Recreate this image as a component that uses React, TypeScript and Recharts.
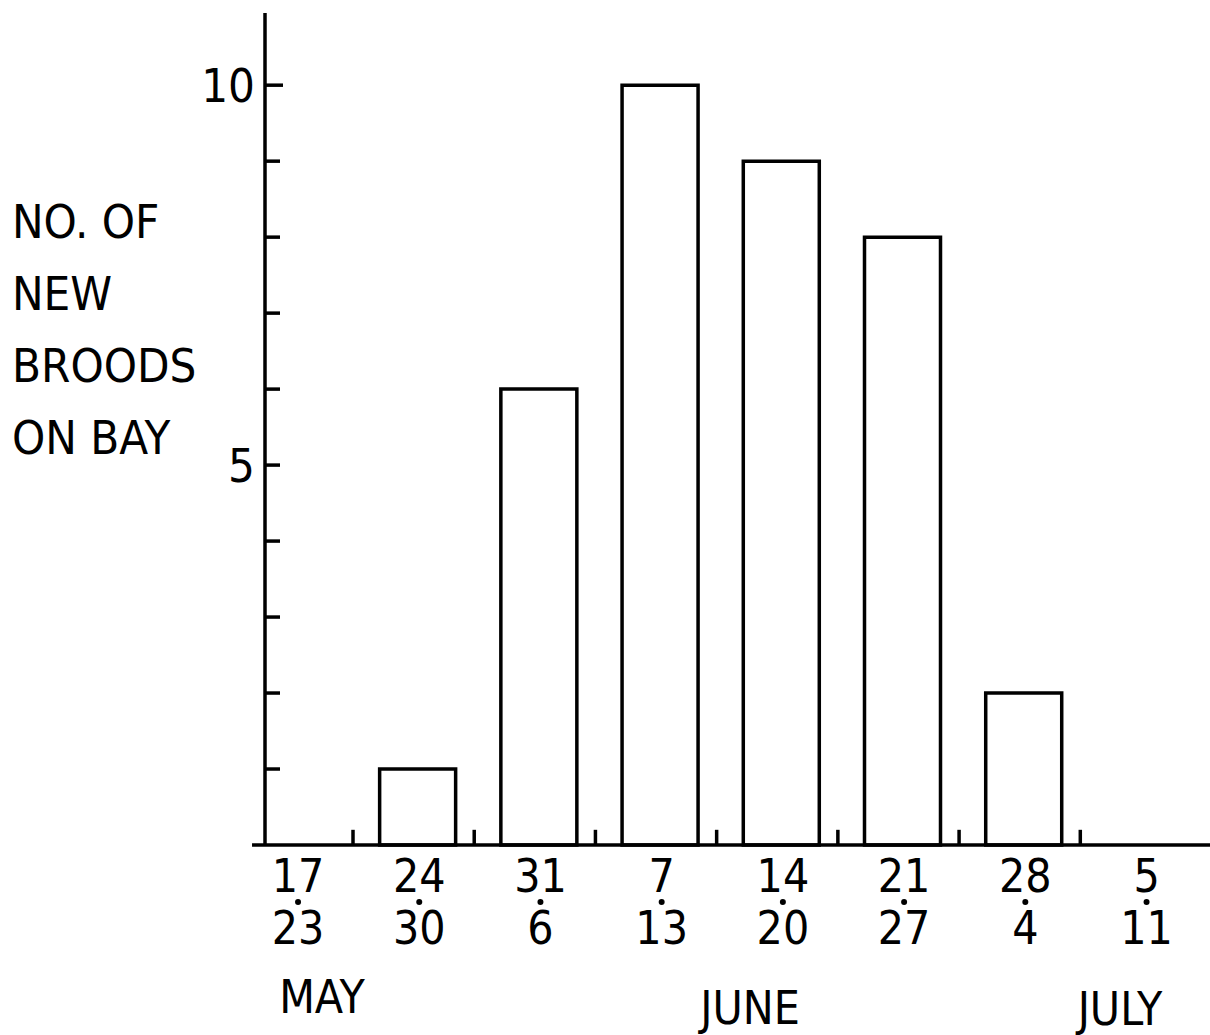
import { Bar, BarChart, ReferenceLine, XAxis, YAxis } from 'recharts';

const WEEK_START = ['17', '24', '31', '7', '14', '21', '28', '5'];
const WEEK_END = ['23', '30', '6', '13', '20', '27', '4', '11'];
const NEW_BROODS = [0, 1, 6, 10, 9, 8, 2, 0];
const Y_TICKS = [1, 2, 3, 4, 5, 6, 7, 8, 9, 10];
const Y_LABELED = [5, 10];
const Y_TITLE = ['NO. OF', 'NEW', 'BROODS', 'ON BAY'];
const MONTHS = ['MAY', 'JUNE', 'JULY'];

const rows = NEW_BROODS.map((v, i) => ({ week: i, start: WEEK_START[i], end: WEEK_END[i], broods: v }));
const boundaries = WEEK_START.slice(1).map((_, i) => i + 0.5);

const FONT = "'DejaVu Sans Condensed', 'DejaVu Sans', sans-serif";
const INK = '#000';
const LINE_W = 3.5;

// where the month names sit under the date labels
const monthPos = [
  { left: 322, top: 997 },
  { left: 750, top: 1008 },
  { left: 1120, top: 1009 },
];

function WeekTick(props: any) {
  const { x, y, payload } = props;
  const r = rows[payload.value];
  if (!r) return null;
  return (
    <g fontFamily={FONT} fontStretch="condensed" fontSize={46} fill={INK}>
      <text x={x + 2} y={y + 47} textAnchor="middle">{r.start}</text>
      <circle cx={x + 2} cy={y + 57} r={3} fill={INK} />
      <text x={x + 2} y={y + 99} textAnchor="middle">{r.end}</text>
    </g>
  );
}

function CountTick(props: any) {
  const { x, y, payload } = props;
  const len = payload.value === 10 ? 18 : 15;
  return (
    <g>
      <line x1={x} y1={y} x2={x + len} y2={y} stroke={INK} strokeWidth={LINE_W} />
      {Y_LABELED.includes(payload.value) && (
        <text x={x - 10} y={y + 17} textAnchor="end" fontFamily={FONT} fontStretch="condensed" fontSize={47} fill={INK}>
          {payload.value}
        </text>
      )}
    </g>
  );
}

export default function App() {
  return (
    <div style={{ position: 'absolute', left: 0, top: 0, width: 1210, height: 1035, background: '#fff' }}>
      <BarChart width={1210} height={1035} data={rows} margin={{ top: 13, right: 0, bottom: 0, left: 0 }}>
        <XAxis
          dataKey="week"
          type="number"
          domain={[-0.256, 7.54]}
          ticks={rows.map((r) => r.week)}
          allowDataOverflow
          height={190}
          tickSize={0}
          tickMargin={0}
          tickLine={false}
          axisLine={{ stroke: INK, strokeWidth: LINE_W }}
          tick={<WeekTick />}
          interval={0}
        />
        <YAxis
          type="number"
          domain={[0, 10.95]}
          ticks={Y_TICKS}
          width={265}
          tickSize={0}
          tickMargin={0}
          tickLine={false}
          axisLine={{ stroke: INK, strokeWidth: LINE_W }}
          tick={<CountTick />}
          interval={0}
        />
        <ReferenceLine
          segment={[{ x: -0.363, y: 0 }, { x: -0.256, y: 0 }]}
          stroke={INK}
          strokeWidth={LINE_W}
          ifOverflow="visible"
        />
        {boundaries.map((b) => (
          <ReferenceLine
            key={b}
            segment={[{ x: b - 0.03, y: 0 }, { x: b - 0.03, y: 0.2 }]}
            stroke={INK}
            strokeWidth={LINE_W}
          />
        ))}
        <Bar dataKey="broods" fill="#fff" stroke={INK} strokeWidth={LINE_W} barSize={76} isAnimationActive={false} />
      </BarChart>
      <div
        style={{
          position: 'absolute', left: 12, top: 186, fontFamily: FONT, fontStretch: 'condensed',
          fontSize: 47, lineHeight: '72px', color: INK, whiteSpace: 'pre',
        }}
      >
        {Y_TITLE.map((t) => <div key={t}>{t}</div>)}
      </div>
      {MONTHS.map((m, i) => (
        <div
          key={m}
          style={{
            position: 'absolute', left: monthPos[i].left, top: monthPos[i].top, transform: 'translate(-50%, -50%)',
            fontFamily: FONT, fontStretch: 'condensed', fontSize: 46, lineHeight: 1, color: INK,
          }}
        >
          {m}
        </div>
      ))}
    </div>
  );
}
